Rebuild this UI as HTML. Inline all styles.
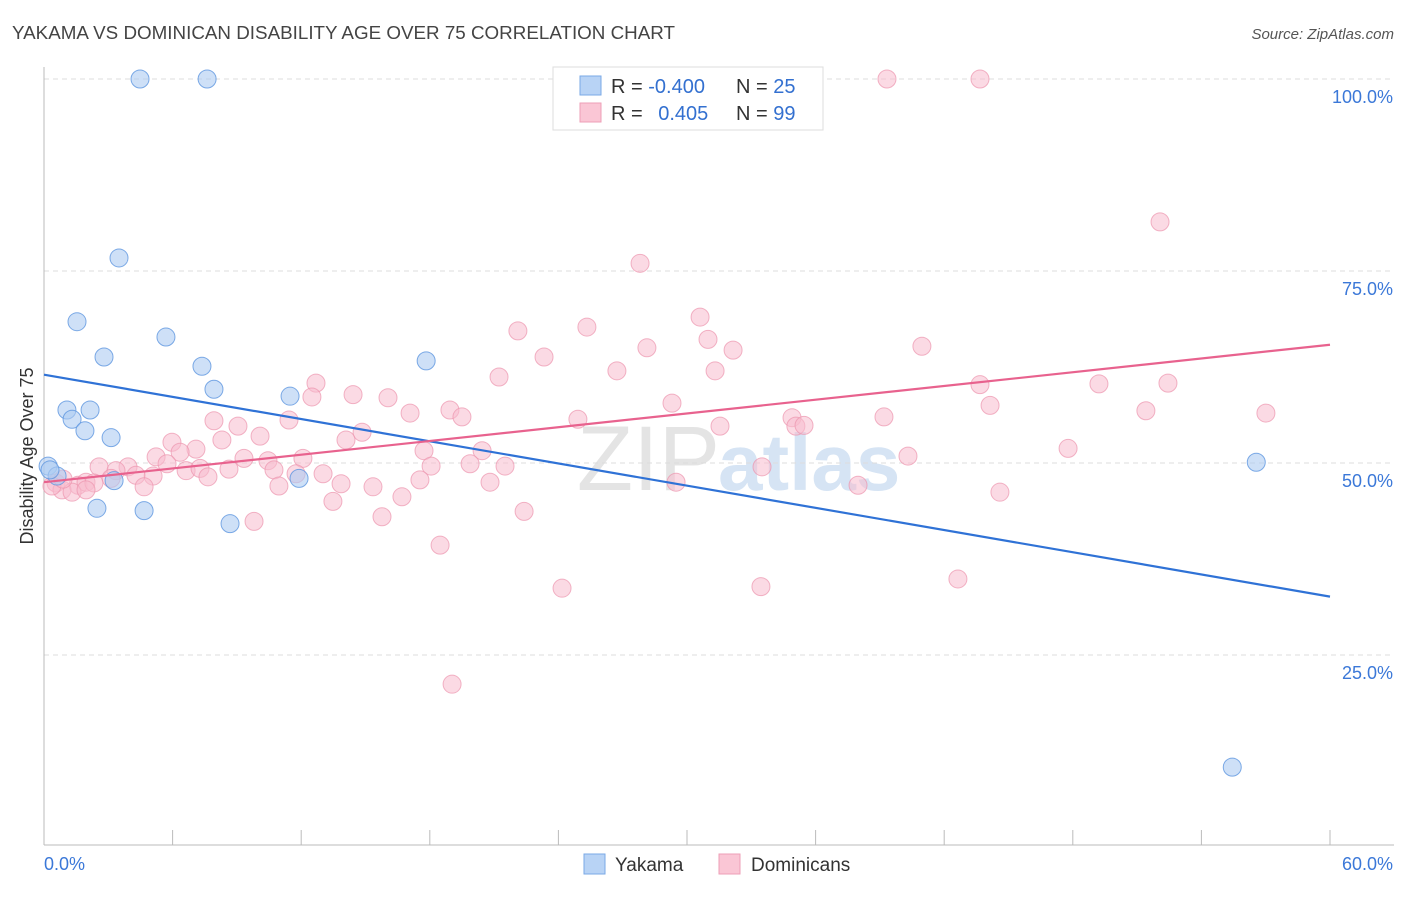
<!DOCTYPE html>
<html><head><meta charset="utf-8"><style>
body{margin:0;background:#fff;font-family:"Liberation Sans",sans-serif;}
svg text{font-family:"Liberation Sans",sans-serif;}
</style></head><body>
<svg id="chart" width="1406" height="892" viewBox="0 0 1406 892" xmlns="http://www.w3.org/2000/svg">
<text x="12" y="39" font-size="18" fill="#444" textLength="663" lengthAdjust="spacingAndGlyphs">YAKAMA VS DOMINICAN DISABILITY AGE OVER 75 CORRELATION CHART</text>
<text x="1394" y="39" font-size="15" fill="#555" text-anchor="end" font-style="italic">Source: ZipAtlas.com</text>
<text x="720" y="490" font-size="92" fill="#e4e4e4" text-anchor="end" font-family="Liberation Serif">ZIP</text>
<text x="718" y="490" font-size="80" fill="#d6e4f4" font-weight="bold">atlas</text>
<g id="grid"></g>
<g id="axes"></g>
<g id="pts"></g>
<g id="trends"></g>
<text transform="translate(33,456) rotate(-90)" font-size="18" fill="#333" text-anchor="middle">Disability Age Over 75</text>
<g>
<rect x="553" y="67" width="270" height="63" fill="#fff" stroke="#ddd"/>
<rect x="580" y="76" width="21" height="19" fill="#b8d3f5" stroke="#7aa8e6"/>
<rect x="580" y="103" width="21" height="19" fill="#fac6d5" stroke="#ee9fb7"/>
<text x="611" y="93" font-size="20" fill="#333">R = <tspan fill="#3370d0">-0.400</tspan></text>
<text x="736" y="93" font-size="20" fill="#333">N = <tspan fill="#3370d0">25</tspan></text>
<text x="611" y="120" font-size="20" fill="#333">R = <tspan fill="#3370d0" dx="10">0.405</tspan></text>
<text x="736" y="120" font-size="20" fill="#333">N = <tspan fill="#3370d0">99</tspan></text>
</g>
<g><rect x="584" y="854" width="21" height="20" fill="#b8d3f5" stroke="#7aa8e6"/><text x="615" y="871" font-size="19" fill="#333">Yakama</text></g>
<g><rect x="719" y="854" width="21" height="20" fill="#fac6d5" stroke="#ee9fb7"/><text x="751" y="871" font-size="19" fill="#333">Dominicans</text></g>
</svg>
<script>
const yTicks=[25,50,75,100];
const yTickLabels=["25.0%","50.0%","75.0%","100.0%"];
const xTicks=[0,6,12,18,24,30,36,42,48,54,60];
const yakamaX=[0.19,0.61,4.48,7.61,3.5,1.54,2.8,5.69,7.37,7.93,1.07,2.15,1.31,1.91,3.13,3.27,2.47,4.67,8.68,11.48,11.9,17.83,56.56,55.44,0.28];
const yakamaY=[49.6,48.3,100,100,76.7,68.4,63.8,66.4,62.6,59.6,56.9,56.9,55.7,54.2,53.3,47.7,44.1,43.8,42.1,58.7,48.0,63.3,50.1,10.4,49.1];
const domX=[39.33,43.67,52.07,27.81,30.61,22.11,25.33,30.98,28.13,32.15,40.96,23.33,26.73,31.31,21.23,12.69,43.67,49.22,52.44,14.42,16.05,12.5,44.14,29.3,18.94,17.08,19.5,51.41,57.01,39.19,24.91,34.9,7.93,11.43,9.05,35.08,35.46,31.54,14.84,14.09,8.3,10.08,5.97,7.09,6.35,17.73,20.44,47.78,5.23,9.33,12.08,10.45,40.31,5.74,19.88,21.51,18.06,33.5,2.57,3.92,3.36,6.63,7.28,8.63,10.73,7.65,5.09,4.29,13.02,11.76,17.54,20.81,29.49,3.13,1.59,0.56,1.96,2.33,13.86,15.35,10.96,4.67,0.84,1.31,1.96,0.37,37.98,44.6,13.48,16.7,22.4,15.77,9.8,18.48,24.17,33.45,42.64,19.04,0.89];
const domY=[100,100,81.4,76.0,69.0,67.2,67.7,66.1,65.0,64.7,65.2,63.8,62.0,62.0,61.2,60.4,60.2,60.3,60.4,58.9,58.5,58.6,57.5,57.8,56.9,56.5,56.0,56.8,56.5,56.0,55.7,55.9,55.5,55.6,54.8,54.8,54.9,54.8,54.0,53.0,53.0,53.5,52.7,51.8,51.4,51.6,51.6,51.9,50.8,50.6,50.6,50.3,50.9,49.9,49.9,49.6,49.6,49.5,49.5,49.5,49.0,49.0,49.3,49.2,49.1,48.2,48.3,48.4,48.6,48.6,47.8,47.5,47.5,48.0,47.1,47.4,47.5,47.4,47.3,46.9,47.0,46.9,46.5,46.2,46.5,47.0,47.1,46.2,45.0,45.6,43.7,43.0,42.4,39.3,33.7,33.9,34.9,21.2,47.9];
const yakamaTrend=[61.5,32.6];
const domTrend=[47.5,65.4];
const NS="http://www.w3.org/2000/svg";
const X=v=>44+v/60*1286, Y=v=>847-v/100*768;
function mk(t,a,p){const e=document.createElementNS(NS,t);for(const k in a)e.setAttribute(k,a[k]);document.getElementById(p).appendChild(e);return e;}
yTicks.forEach((t,i)=>{
 const g=mk('line',{x1:44,x2:1394,y1:Y(t),y2:Y(t),stroke:'#ddd','stroke-dasharray':'5,4'},'grid');
 
 
 const l=mk('text',{x:1393,y:Y(t)+24,'font-size':18,fill:'#3b78d8','text-anchor':'end'},'axes');l.textContent=yTickLabels[i];
 
 
});
let a=mk('line',{x1:44,x2:44,y1:67,y2:845,stroke:'#bbb'},'axes');


a=mk('line',{x1:44,x2:1394,y1:845,y2:845,stroke:'#bbb'},'axes');


xTicks.forEach(t=>{const e=mk('line',{x1:X(t),x2:X(t),y1:830,y2:845,stroke:'#bbb'},'axes');
 
 });
let t0=mk('text',{x:44,y:870,'font-size':18,fill:'#3b78d8'},'axes');t0.textContent='0.0%';


t0=mk('text',{x:1393,y:870,'font-size':18,fill:'#3b78d8','text-anchor':'end'},'axes');t0.textContent='60.0%';


domX.forEach((x,i)=>{const c=mk('circle',{cx:X(x),cy:Y(domY[i]),r:9,fill:'#f8bccd','fill-opacity':0.55,stroke:'#ec94ae','stroke-opacity':0.7},'pts');
 
 });
yakamaX.forEach((x,i)=>{const c=mk('circle',{cx:X(x),cy:Y(yakamaY[i]),r:9,fill:'#aecbf2','fill-opacity':0.6,stroke:'#5e96e0','stroke-opacity':0.8},'pts');
 
 });
let tl=mk('line',{x1:X(0),x2:X(60),y1:Y(yakamaTrend[0]),y2:Y(yakamaTrend[1]),stroke:'#2f72d6','stroke-width':2.2},'trends');


tl=mk('line',{x1:X(0),x2:X(60),y1:Y(domTrend[0]),y2:Y(domTrend[1]),stroke:'#e8628e','stroke-width':2.2},'trends');


</script>
</body></html>
